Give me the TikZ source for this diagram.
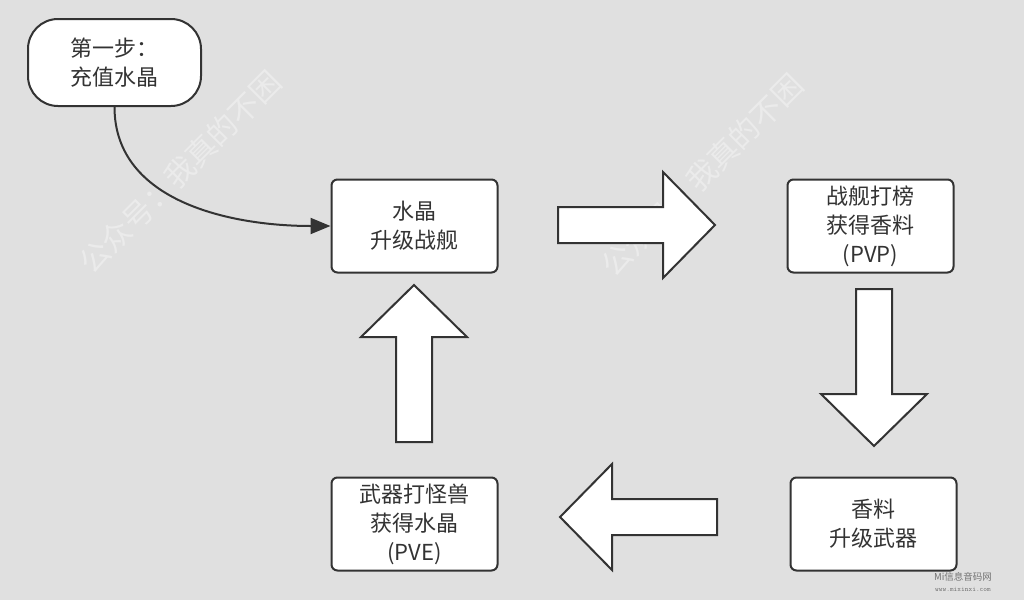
\documentclass[tikz,border=0pt]{standalone}
\usepackage{fontspec}
\setmainfont{Noto Sans CJK SC}
\usetikzlibrary{positioning, arrows.meta}
\definecolor{hinter}{RGB}{224,224,224}
\definecolor{linie}{RGB}{51,51,51}
\definecolor{wasser}{RGB}{235,235,235}
\tikzset{kasten/.style={rectangle,draw=linie,line width=2pt,fill=white,rounded corners=6pt,
		minimum width=166pt,minimum height=93pt,align=center,text=linie,
		font=\fontsize{22}{29}\selectfont},
	anfang/.style={kasten,rounded corners=30pt,minimum width=173pt,minimum height=87pt},
	pfeil/.style={draw=linie,line width=2pt,fill=white,line join=miter},
	verbindung/.style={draw=linie,line width=2pt,-{Triangle[length=20pt,width=16pt]}},
	marke/.style={text=wasser,font=\fontsize{30}{30}\selectfont,rotate=45},
	quelle/.style={text=black!55,align=center,font=\fontsize{9.5}{11}\selectfont} }

\begin{document}
\begin{tikzpicture}[x=1pt,y=-1pt]
  \useasboundingbox[fill=hinter] (0,0) rectangle (1024,600);

  % watermarks
  \node (wz1) [marke] at (180,172) {公众号：我真的不困};
  \node (wz2) [marke] at (702,175) {公众号：我真的不困};
  \node (src) [quelle] at (963,582) {Mi信息音码网\\\ttfamily\fontsize{7}{8}\selectfont www.mixinxi.com};

  \node (start) [anfang] at (114.5,62.5) {第一步：\\充值水晶};

  \node (b1) [kasten] at (414.5,226) {水晶\\升级战舰};
  \node (b2) [kasten, right=288pt of b1] {战舰打榜\\获得香料\\(PVP)};
  \node (b4) [kasten, below=203pt of b1] {武器打怪兽\\获得水晶\\(PVE)};
  \node (b3) [kasten, right=291pt of b4] {香料\\升级武器};

  \draw [verbindung] (start.south) to [out=-90, in=180] (b1.west);

  % block arrows: right, down, left, up
  \foreach \x/\y/\w in {558/225/0, 874/289/-90, 717/517/180, 414/442/90}
    \draw [pfeil, shift={(\x,\y)}, rotate=\w] (0,-18) -- (105,-18) -- (105,-53)
      -- (157,0) -- (105,53) -- (105,18) -- (0,18) -- cycle;
\end{tikzpicture}
\end{document}
